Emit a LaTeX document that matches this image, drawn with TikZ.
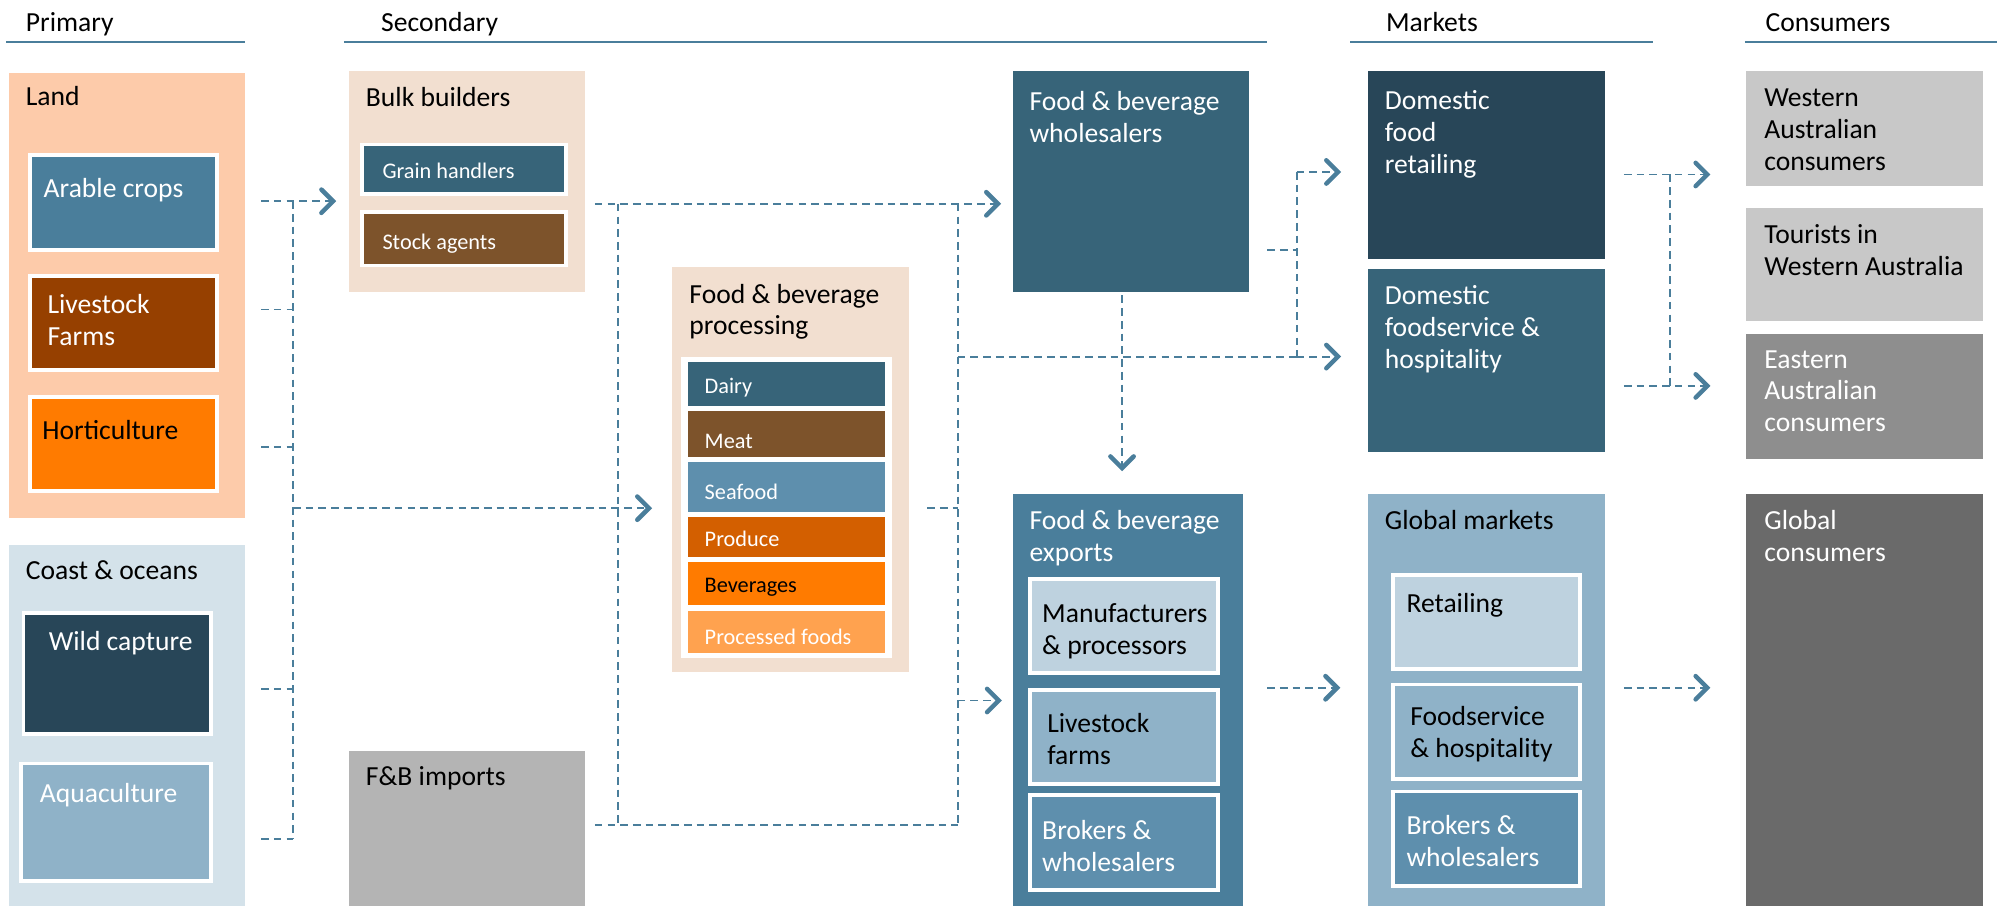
\documentclass[tikz,border=0pt]{standalone}
\usepackage{fontspec}
\setmainfont{Carlito}
\usetikzlibrary{arrows.meta,fit}
\definecolor{cLand}{HTML}{FDCBAA}
\definecolor{cCoast}{HTML}{D4E2EA}
\definecolor{cMid}{HTML}{4A7E9B}
\definecolor{cBrown}{HTML}{964000}
\definecolor{cOrange}{HTML}{FF7B00}
\definecolor{cNavy}{HTML}{284658}
\definecolor{cPale}{HTML}{8FB2C8}
\definecolor{cSand}{HTML}{F2DFD0}
\definecolor{cTeal}{HTML}{376479}
\definecolor{cWood}{HTML}{7D532B}
\definecolor{cSea}{HTML}{5E8FAD}
\definecolor{cRust}{HTML}{D35F00}
\definecolor{cApricot}{HTML}{FFA24F}
\definecolor{cIce}{HTML}{BED2DF}
\definecolor{cGreyA}{HTML}{B4B4B4}
\definecolor{cGreyB}{HTML}{C8C8C8}
\definecolor{cGreyC}{HTML}{8E8E8E}
\definecolor{cGreyD}{HTML}{6A6A6A}
\definecolor{cLine}{HTML}{4A7E9B}
\newcommand\mkbox[6]{\node[fit={(#2,#3) (#4,#5)}, inner sep=0pt, outer sep=0pt, fill=#6] (#1) {};}
\newcommand\mkwbox[6]{\node[fit={(#2,#3) (#4,#5)}, inner sep=0pt, outer sep=0pt, fill=#6, draw=white, line width=1.8pt] (#1) {};}
\begin{document}
\begin{tikzpicture}[x=0.6pt,y=-0.6pt,
  txt/.style={anchor=base west, inner sep=0pt, align=left, font=\fontsize{13}{15}\selectfont},
  wtxt/.style={txt, text=white},
  stxt/.style={txt, font=\fontsize{10.5}{12}\selectfont},
  swtxt/.style={stxt, text=white},
  hline/.style={draw=cLine, line width=0.8pt},
  con/.style={draw=cLine, line width=0.9pt, dash pattern=on 3.6pt off 2.4pt},
  arr/.style={con, -{Straight Barb[length=5.5pt,width=11pt,line width=2.1pt,line cap=round]}}]
\useasboundingbox (0,0) rectangle (1568,711);
% headers
\node[txt] (hPrimary) at (20,25) {Primary};
\node[txt] (hSecondary) at (299,25) {Secondary};
\node[txt] (hMarkets) at (1088,25) {Markets};
\node[txt] (hConsumers) at (1386,25) {Consumers};
\draw[hline] (5,33) -- (192,33);
\draw[hline] (270,33) -- (995,33);
\draw[hline] (1060,33) -- (1298,33);
\draw[hline] (1370,33) -- (1568,33);
% primary
\mkbox{land}{7}{57}{192}{407}{cLand}
\mkwbox{arable}{23.5}{121.5}{170.5}{196.5}{cMid}
\mkwbox{livestock}{23.5}{216.5}{170.5}{290.5}{cBrown}
\mkwbox{horti}{23.5}{311.5}{170.5}{385.5}{cOrange}
\mkbox{coast}{7}{428}{192}{711}{cCoast}
\mkwbox{wild}{18.5}{481.5}{165.5}{576.5}{cNavy}
\mkwbox{aqua}{16.5}{599.5}{165.5}{691.5}{cPale}
\node[txt] (tLand) at (20,83) {Land};
\node[wtxt] (tArable) at (34,155) {Arable crops};
\node[wtxt] (tLivestock) at (37,271) {Livestock\\Farms};
\node[txt] (tHorti) at (33,345) {Horticulture};
\node[txt] (tCoast) at (20,455) {Coast \& oceans};
\node[wtxt] (tWild) at (38,511) {Wild capture};
\node[wtxt] (tAqua) at (31,630) {Aquaculture};
% secondary
\mkbox{bulk}{274}{56}{459}{229}{cSand}
\mkwbox{grain}{284.5}{113.5}{444.5}{152.5}{cTeal}
\mkwbox{stock}{284.5}{166.5}{444.5}{208.5}{cWood}
\node[txt] (tBulk) at (287,84) {Bulk builders};
\node[swtxt] (tGrain) at (300,140) {Grain handlers};
\node[swtxt] (tStock) at (300,196) {Stock agents};
\mkbox{imports}{274}{590}{459}{711}{cGreyA}
\node[txt] (tImports) at (287,617) {F\&B imports};
\mkbox{proc}{528}{210}{714}{528}{cSand}
\mkbox{panel}{535}{280}{700}{517}{white}
\mkbox{dairy}{540}{284}{695}{319}{cTeal}
\mkbox{meat}{540}{323}{695}{359}{cWood}
\mkbox{seafood}{540}{363}{695}{402}{cSea}
\mkbox{produce}{540}{406}{695}{437}{cRust}
\mkbox{bev}{540}{441}{695}{475}{cOrange}
\mkbox{procfood}{540}{480}{695}{513}{cApricot}
\node[txt] (tProc) at (541,263) {Food \& beverage\\processing};
\node[swtxt] (tDairy) at (553,309) {Dairy};
\node[swtxt] (tMeat) at (553,352) {Meat};
\node[swtxt] (tSeafood) at (553,392) {Seafood};
\node[swtxt] (tProduce) at (553,429) {Produce};
\node[stxt] (tBev) at (553,465) {Beverages};
\node[swtxt] (tProcFood) at (553,506) {Processed foods};
\mkbox{whole}{795}{56}{981}{229}{cTeal}
\node[wtxt] (tWhole) at (808,112) {Food \& beverage\\wholesalers};
\mkbox{exports}{795}{388}{976}{711}{cMid}
\mkwbox{manuf}{808.5}{454.5}{956.5}{528.5}{cIce}
\mkwbox{livefarm}{808.5}{541.5}{956.5}{615.5}{cPale}
\mkwbox{brokE}{808.5}{624.5}{956.5}{698.5}{cSea}
\node[wtxt] (tExports) at (808,441) {Food \& beverage\\exports};
\node[txt] (tManuf) at (818,514) {Manufacturers\\\& processors};
\node[txt] (tLiveFarm) at (822,600) {Livestock\\farms};
\node[wtxt] (tBrokE) at (818,684) {Brokers \&\\wholesalers};
% markets
\mkbox{domret}{1074}{56}{1260}{203}{cNavy}
\mkbox{domfs}{1074}{211}{1260}{355}{cTeal}
\mkbox{gm}{1074}{388}{1260}{711}{cPale}
\mkwbox{retail}{1093.5}{451.5}{1240.5}{525.5}{cIce}
\mkwbox{fserv}{1093.5}{537.5}{1240.5}{611.5}{cPale}
\mkwbox{brokG}{1093.5}{621.5}{1240.5}{695.5}{cSea}
\node[wtxt] (tDomRet) at (1087,136) {Domestic\\food\\retailing};
\node[wtxt] (tDomFS) at (1087,289) {Domestic\\foodservice \&\\hospitality};
\node[txt] (tGM) at (1087,416) {Global markets};
\node[txt] (tRetail) at (1104,481) {Retailing};
\node[txt] (tFServ) at (1107,595) {Foodservice\\\& hospitality};
\node[wtxt] (tBrokG) at (1104,680) {Brokers \&\\wholesalers};
% consumers
\mkbox{wac}{1371}{56}{1557}{146}{cGreyB}
\mkbox{tour}{1371}{163}{1557}{252}{cGreyB}
\mkbox{eac}{1371}{262}{1557}{360}{cGreyC}
\mkbox{gc}{1371}{388}{1557}{711}{cGreyD}
\node[txt] (tWAC) at (1385,134) {Western\\Australian\\consumers};
\node[txt] (tTour) at (1385,216) {Tourists in\\Western Australia};
\node[wtxt] (tEAC) at (1385,339) {Eastern\\Australian\\consumers};
\node[wtxt] (tGC) at (1385,441) {Global\\consumers};
% connectors: primary
\coordinate (pA) at (205,158);
\coordinate (pB) at (205,243);
\coordinate (pC) at (205,351);
\coordinate (pD) at (205,541);
\coordinate (pE) at (205,659);
\coordinate (vTop) at (230,158);
\coordinate (vBot) at (230,659);
\coordinate (vMid) at (230,399);
\draw[con] (vTop) -- (vBot);
\draw[con] (pB) -- (pB -| vTop);
\draw[con] (pC) -- (pC -| vTop);
\draw[con] (pD) -- (pD -| vTop);
\draw[con] (pE) -- (vBot);
\draw[arr, shorten >=6pt] (pA) -- (pA -| bulk.west);
\draw[arr, shorten >=9.6pt] (vMid) -- (vMid -| proc.west);
% connectors: secondary
\coordinate (sA) at (467,160);
\coordinate (sJ1) at (485,160);
\coordinate (sJ2) at (752,160);
\coordinate (sB) at (467,648);
\coordinate (sJ3) at (485,648);
\coordinate (sJ4) at (752,648);
\coordinate (pOut) at (728,399);
\coordinate (sJ5) at (752,399);
\coordinate (sJ6) at (752,550);
\coordinate (sJ7) at (752,280);
\coordinate (wJ) at (1018,280);
\coordinate (wTop) at (1018,135);
\coordinate (wOut) at (995,196);
\coordinate (wMid) at (1018,196);
\coordinate (dTop) at (881,232);
\draw[arr, shorten >=5.4pt] (sA) -- (sA -| whole.west);
\draw[con] (sJ1) -- (sJ3);
\draw[con] (sJ2) -- (sJ4);
\draw[con] (sB) -- (sJ4);
\draw[con] (pOut) -- (sJ5);
\draw[arr, shorten >=5pt] (sJ6) -- (sJ6 -| exports.west);
\draw[con] (sJ7) -- (wJ);
\draw[con] (wTop) -- (wJ);
\draw[con] (wOut) -- (wMid);
\draw[arr, shorten >=12.6pt] (wJ) -- (wJ -| domfs.west);
\draw[arr, shorten >=12.6pt] (wTop) -- (wTop -| domret.west);
\draw[arr, shorten >=10.8pt] (dTop) -- (dTop |- exports.north);
% connectors: markets
\coordinate (eOut) at (995,540);
\draw[arr, shorten >=13pt] (eOut) -- (eOut -| gm.west);
\coordinate (mA) at (1275,137);
\coordinate (mJ1) at (1311,137);
\coordinate (mB) at (1275,303);
\coordinate (mJ2) at (1311,303);
\coordinate (mC) at (1275,540);
\draw[con] (mJ1) -- (mJ2);
\draw[arr, shorten >=16.8pt] (mA) -- (mA -| wac.west);
\draw[arr, shorten >=16.8pt] (mB) -- (mB -| eac.west);
\draw[arr, shorten >=16.8pt] (mC) -- (mC -| gc.west);
\end{tikzpicture}
\end{document}
